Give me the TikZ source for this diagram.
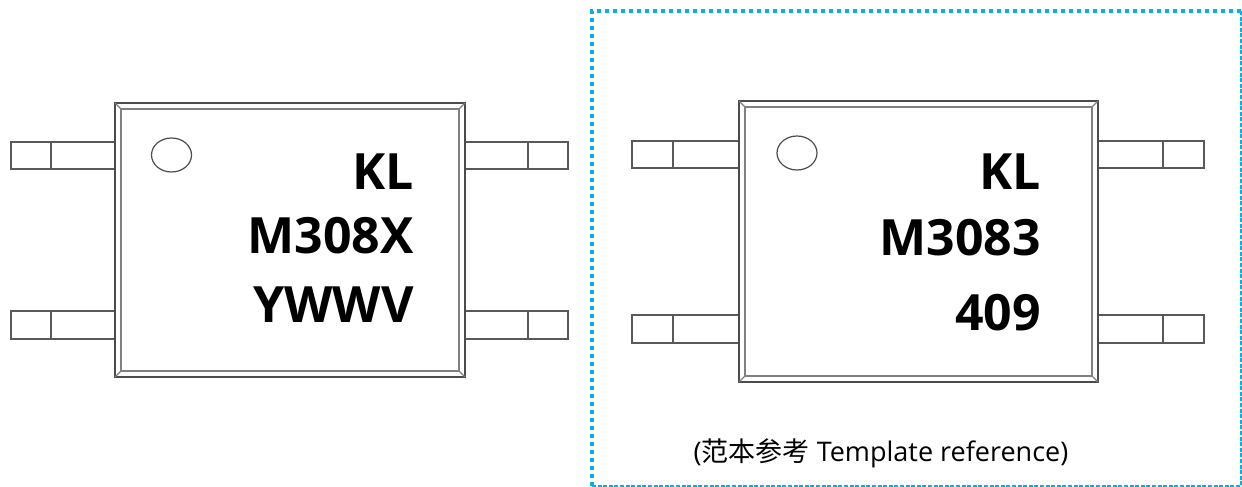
\documentclass[tikz,border=0pt]{standalone}
\usepackage{fontspec}
\setmainfont{Open Sans}
\newfontfamily\cjk{Noto Sans CJK SC}
\definecolor{dotblue}{HTML}{00B0F0}
\tikzset{
  x=1pt,y=-1pt,
  leadline/.style={draw=black!65,line width=1.4pt,line join=miter},
  bodyouter/.style={draw=black!70,line width=1.7pt},
  bodyinner/.style={draw=black!50,line width=2pt},
  marktext/.style={inner sep=0pt,anchor=base east,font=\fontsize{50}{50}\selectfont\bfseries},
  dotline/.style={draw=dotblue,line width=4pt,dash pattern=on 4pt off 4pt},
  dashline/.style={draw=dotblue,line width=1.6pt,dash pattern=on 4pt off 1.6pt},
}
\newcommand{\chip}[5]{% x1 x2 y1 y2 (outer), circle centre x
  \draw[bodyouter] (#1,#3) rectangle (#2,#4);
  \draw[bodyinner] (#1+6,#3+6) rectangle (#2-6,#4-6);
  \draw[bodyinner,line width=1.2pt] (#1,#3) -- (#1+6,#3+6) (#2,#3) -- (#2-6,#3+6)
     (#1,#4) -- (#1+6,#4-6) (#2,#4) -- (#2-6,#4-6);
  \draw[draw=black!70,line width=1.2pt] (#5,#3+52) ellipse [x radius=20,y radius=17];
}
\newcommand{\pinbox}[5]{% x1 xdiv x2 y1 y2
  \draw[leadline] (#2,#4) rectangle (#1,#5);
  \draw[leadline] (#2,#4) rectangle (#3,#5);
}
\begin{document}
\begin{tikzpicture}
\useasboundingbox (0,0) rectangle (1242,487);
\fill[white] (0,0) rectangle (1242,487);
% left package
\pinbox{11}{51}{115}{142}{169}
\pinbox{11}{51}{115}{311}{339}
\pinbox{465}{528}{568}{142}{169}
\pinbox{465}{528}{568}{311}{339}
\chip{115}{465}{103}{377}{171.5}
\node[marktext] (lk) at (414,189) {KL};
\node[marktext] (lm) at (414,253.5) {M308X};
\node[marktext] (ly) at (414,322) {YWWV};
% right package
\pinbox{632}{673}{739}{141}{168}
\pinbox{632}{673}{739}{315}{343}
\pinbox{1098}{1163}{1204}{141}{168}
\pinbox{1098}{1163}{1204}{315}{343}
\chip{739}{1098}{101}{382}{797}
\node[marktext] (rk) at (1041,189) {KL};
\node[marktext] (rm) at (1041,255) {M3083};
\node[marktext] (rn) at (1041,330) {409};
% frame
\coordinate (ftl) at (592,11);
\coordinate (ftr) at (1241,11);
\coordinate (fbl) at (592,486);
\coordinate (fbr) at (1241,486);
\draw[dashline] (ftr) -- (fbr) -- (fbl);
\draw[dotline] (fbl) -- (ftl) -- (ftr);
\node[inner sep=0pt,anchor=base,font=\fontsize{27}{27}\selectfont] (cap) at (881,461) {({\cjk 范本参考} Template reference)};
\end{tikzpicture}
\end{document}
